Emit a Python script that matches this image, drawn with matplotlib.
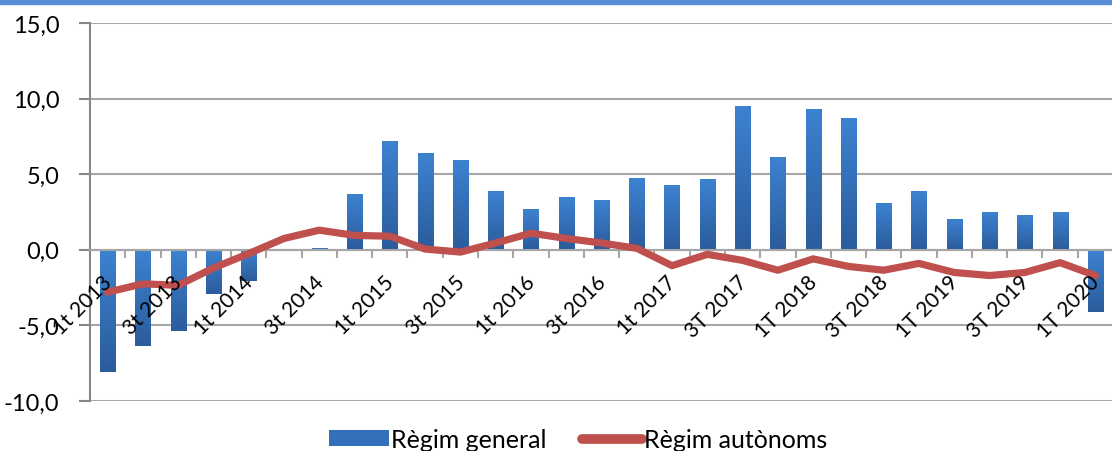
import numpy as np
import matplotlib.pyplot as plt
from matplotlib.colors import LinearSegmentedColormap
from matplotlib.patches import Rectangle, Patch
from matplotlib.lines import Line2D
from matplotlib.transforms import ScaledTranslation

plt.rcParams['font.family'] = ['Lato', 'DejaVu Sans']

trimestres = ['1t 2013', '2t 2013', '3t 2013', '4t 2013',
              '1t 2014', '2t 2014', '3t 2014', '4t 2014',
              '1t 2015', '2t 2015', '3t 2015', '4t 2015',
              '1t 2016', '2t 2016', '3t 2016', '4t 2016',
              '1t 2017', '2t 2017', '3T 2017', '4T 2017',
              '1T 2018', '2T 2018', '3T 2018', '4T 2018',
              '1T 2019', '2T 2019', '3T 2019', '4T 2019',
              '1T 2020']
regim_general = [-8.1, -6.35, -5.35, -2.95, -2.05, 0.05, 0.13, 3.65, 7.2,
                 6.35, 5.95, 3.9, 2.65, 3.45, 3.3, 4.75, 4.25, 4.65, 9.5,
                 6.15, 9.3, 8.7, 3.1, 3.85, 2.05, 2.45, 2.3, 2.5, -4.1]
regim_autonoms = [-2.8, -2.25, -2.35, -1.2, -0.25, 0.75, 1.3, 0.95, 0.9,
                  0.05, -0.15, 0.45, 1.1, 0.75, 0.45, 0.1, -1.05, -0.3,
                  -0.7, -1.35, -0.6, -1.1, -1.35, -0.9, -1.5, -1.7, -1.5,
                  -0.85, -1.7]

W, H = 1112, 452
fig = plt.figure(figsize=(W / 100, H / 100), dpi=100)
ax = fig.add_axes([90 / W, 1 - 402 / H, 1023 / W, 378 / H])

# franja blava superior
fig.patches.append(Rectangle((0, 1 - 5 / H), 1, 5 / H, transform=fig.transFigure,
                             color='#558ED5', zorder=0))

x = np.arange(len(trimestres))
amplada = 0.43
barres = ax.bar(x, regim_general, width=amplada, color='none', zorder=2)

# degradat a cada barra (clar a dalt, fosc a baix)
cmap = LinearSegmentedColormap.from_list('blaus', ['#2B5C9D', '#3D82D0'])
grad = np.linspace(0, 1, 100).reshape(-1, 1)
for b in barres:
    x0 = b.get_x()
    y0 = b.get_y()
    h = b.get_height()
    ylo, yhi = min(y0, y0 + h), max(y0, y0 + h)
    ax.imshow(grad, extent=[x0, x0 + amplada, ylo, yhi], origin='lower',
              cmap=cmap, aspect='auto', zorder=2)

ax.plot(x, regim_autonoms, color='#C0504D', lw=5.2, solid_capstyle='round',
        solid_joinstyle='round', zorder=4)

ax.set_xlim(-0.5, len(trimestres) - 0.5)
ax.set_ylim(-10, 15)
ax.set_yticks([-10, -5, 0, 5, 10, 15])
ax.set_yticklabels([f'{v:.1f}'.replace('.', ',') for v in [-10, -5, 0, 5, 10, 15]])
ax.grid(axis='y', color='#A6A6A6', lw=1.5, zorder=0)
ax.set_axisbelow(True)

ax.spines['left'].set_color('#868686')
ax.spines['left'].set_linewidth(1.5)
ax.spines['bottom'].set_position(('data', 0))
ax.spines['bottom'].set_color('#A6A6A6')
ax.spines['bottom'].set_linewidth(1.5)
ax.spines['top'].set_visible(False)
ax.spines['right'].set_visible(False)

ax.tick_params(axis='y', length=8, width=1.5, color='#868686', pad=14,
               labelsize=17)
# marques entre trimestres
ax.set_xticks(np.arange(0.5, len(trimestres) - 0.5, 1))
ax.tick_params(axis='x', length=6, width=1.5, color='#A6A6A6',
               direction='out', labelbottom=False)

# etiquetes girades (una de cada dues)
desplac = ScaledTranslation(-6 / 100, -22 / 100, fig.dpi_scale_trans)
for xi, nom in zip(x[::2], trimestres[::2]):
    ax.text(xi, 0, nom, transform=ax.transData + desplac, rotation=45,
            rotation_mode='anchor', ha='right', va='top', fontsize=15,
            color='#000000', clip_on=False, zorder=5)

handles = [Patch(facecolor='#3470BA', edgecolor='none'),
           Line2D([], [], color='#C0504D', lw=7, solid_capstyle='round')]
fig.legend(handles, ['Règim general', 'Règim autònoms'], loc='lower center',
           bbox_to_anchor=(0.52, -0.05), ncol=2, frameon=False, fontsize=18,
           handlelength=2.4, handleheight=0.6, handletextpad=0.1,
           columnspacing=1.4)

fig.savefig('out.png', dpi=100)
